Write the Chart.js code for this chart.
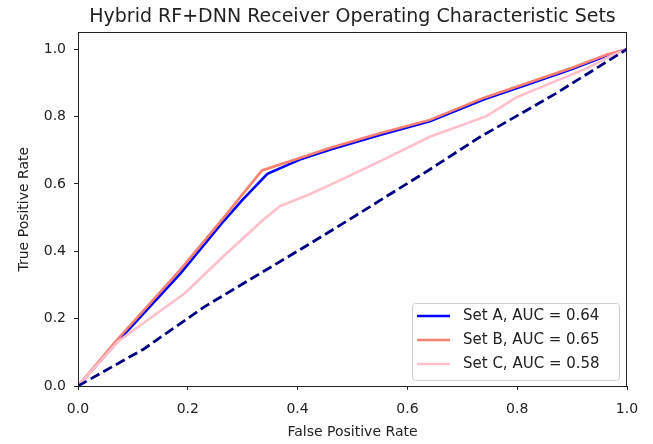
<!DOCTYPE html>
<html lang="en">
<head>
    <meta charset="UTF-8">
    <title>Hybrid RF+DNN ROC Sets</title>
    <script src="https://cdn.jsdelivr.net/npm/chart.js"></script>
    <style>
        html, body { margin: 0; padding: 0; background: #fff; }
        #wrap { width: 653px; height: 444px; position: relative; }
    </style>
</head>
<body>
    <div id="wrap"><canvas id="rocChart"></canvas></div>

    <script>
        // ROC points
        const fprA = [0, 0.07, 0.186, 0.265, 0.30, 0.345, 0.404, 0.46, 0.55, 0.641, 0.74, 0.82, 0.9, 0.965, 1];
        const tprA = [0, 0.128, 0.333, 0.489, 0.553, 0.630, 0.672, 0.702, 0.745, 0.786, 0.851, 0.896, 0.941, 0.982, 1];

        const fprB = [0, 0.07, 0.186, 0.265, 0.335, 0.404, 0.46, 0.55, 0.641, 0.74, 0.82, 0.9, 0.965, 1];
        const tprB = [0, 0.135, 0.345, 0.499, 0.640, 0.677, 0.707, 0.750, 0.790, 0.856, 0.900, 0.945, 0.985, 1];

        const fprC = [0, 0.073, 0.195, 0.265, 0.338, 0.368, 0.423, 0.483, 0.56, 0.641, 0.744, 0.80, 0.87, 0.93, 0.97, 1];
        const tprC = [0, 0.132, 0.276, 0.385, 0.494, 0.534, 0.57, 0.615, 0.675, 0.74, 0.801, 0.858, 0.905, 0.945, 0.98, 1];

        // chance line (navy dashed)
        const fprRef = [0, 0.12, 0.23, 0.42, 0.5, 0.64, 0.73, 0.87, 1];
        const tprRef = [0, 0.11, 0.235, 0.42, 0.5, 0.642, 0.737, 0.868, 1];

        const setLabels = ['Set A, AUC = 0.64', 'Set B, AUC = 0.65', 'Set C, AUC = 0.58'];
        const setColors = ['#0000ff', '#fa8072', '#ffc0cb'];

        const xTicks = [0, 0.2, 0.4, 0.6, 0.8, 1.0];
        const yTicks = [0, 0.2, 0.4, 0.6, 0.8, 1.0];

        const FONT = "'DejaVu Sans', sans-serif";

        function toPoints(xs, ys) {
            return xs.map((x, i) => ({ x: x, y: ys[i] }));
        }

        // box around the axes + legend in the lower right corner
        const framePlugin = {
            id: 'frame',
            afterDatasetsDraw(chart) {
                const { ctx, chartArea: a } = chart;
                ctx.save();
                ctx.strokeStyle = '#222';
                ctx.lineWidth = 1;
                ctx.strokeRect(Math.round(a.left) + 0.5, Math.round(a.top) + 0.5,
                    Math.round(a.right - a.left) - 1, Math.round(a.bottom - a.top));

                // legend
                const bx = 412, by = 303, bw = 207, bh = 77;
                ctx.beginPath();
                ctx.roundRect(bx + 0.5, by + 0.5, bw, bh, 3);
                ctx.fillStyle = 'rgba(255,255,255,0.8)';
                ctx.fill();
                ctx.strokeStyle = '#d0d0d0';
                ctx.stroke();

                ctx.font = '15px ' + FONT;
                ctx.textBaseline = 'middle';
                ctx.textAlign = 'left';
                setLabels.forEach((label, i) => {
                    const y = by + 13 + i * 24;
                    ctx.beginPath();
                    ctx.moveTo(bx + 5, y);
                    ctx.lineTo(bx + 38, y);
                    ctx.strokeStyle = setColors[i];
                    ctx.lineWidth = 2.6;
                    ctx.stroke();
                    ctx.fillStyle = '#222';
                    ctx.fillText(label, bx + 51, y);
                });
                ctx.restore();
            }
        };

        const ctx = document.getElementById('rocChart').getContext('2d');
        const chart = new Chart(ctx, {
            type: 'scatter',
            data: {
                datasets: [
                    {
                        label: setLabels[0],
                        data: toPoints(fprA, tprA),
                        borderColor: setColors[0],
                        borderWidth: 2.6,
                        order: 4
                    },
                    {
                        label: setLabels[1],
                        data: toPoints(fprB, tprB),
                        borderColor: setColors[1],
                        borderWidth: 2.6,
                        order: 3
                    },
                    {
                        label: setLabels[2],
                        data: toPoints(fprC, tprC),
                        borderColor: setColors[2],
                        borderWidth: 2.6,
                        order: 2
                    },
                    {
                        label: 'chance',
                        data: toPoints(fprRef, tprRef),
                        borderColor: '#000080',
                        borderWidth: 2.8,
                        borderDash: [10, 4.5],
                        order: 1
                    }
                ]
            },
            options: {
                responsive: true,
                maintainAspectRatio: false,
                animation: false,
                showLine: true,
                elements: {
                    point: { radius: 0, hoverRadius: 0 },
                    line: { tension: 0, fill: false, borderCapStyle: 'butt' }
                },
                layout: { padding: { left: 0, right: 26, top: 0, bottom: 0 } },
                scales: {
                    x: {
                        type: 'linear',
                        min: 0,
                        max: 1,
                        afterFit: s => { s.height = 58; },
                        afterBuildTicks: s => { s.ticks = xTicks.map(v => ({ value: v })); },
                        ticks: {
                            callback: v => v.toFixed(1),
                            color: '#222',
                            font: { family: FONT, size: 14 },
                            padding: 11,
                            maxRotation: 0
                        },
                        grid: { drawOnChartArea: false, tickLength: 4, color: '#222' },
                        border: { color: '#222' },
                        title: {
                            display: true,
                            text: 'False Positive Rate',
                            color: '#222',
                            font: { family: FONT, size: 14 },
                            padding: { top: 0, bottom: 3 }
                        }
                    },
                    y: {
                        type: 'linear',
                        min: 0,
                        max: 1.05,
                        afterFit: s => { s.width = 78; },
                        afterBuildTicks: s => { s.ticks = yTicks.map(v => ({ value: v })); },
                        ticks: {
                            callback: v => v.toFixed(1),
                            color: '#222',
                            font: { family: FONT, size: 14 },
                            padding: 8
                        },
                        grid: { drawOnChartArea: false, tickLength: 4, color: '#222' },
                        border: { color: '#222' },
                        title: {
                            display: true,
                            text: 'True Positive Rate',
                            color: '#222',
                            font: { family: FONT, size: 14 },
                            padding: { top: 16, bottom: 0 }
                        }
                    }
                },
                plugins: {
                    legend: { display: false },
                    tooltip: { enabled: false },
                    title: {
                        display: true,
                        fullSize: false,
                        text: 'Hybrid RF+DNN Receiver Operating Characteristic Sets',
                        color: '#222',
                        font: { family: FONT, size: 19, weight: 'normal' },
                        padding: { top: 6, bottom: 3.5 }
                    }
                }
            },
            plugins: [framePlugin]
        });
    </script>
</body>
</html>
